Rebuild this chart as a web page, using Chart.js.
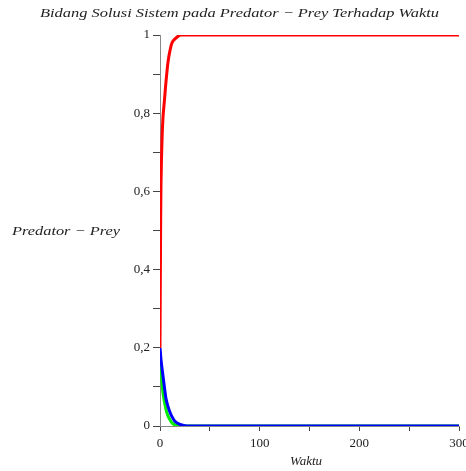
<!DOCTYPE html>
<html>
<head>
<meta charset="utf-8">
<script src="https://cdn.jsdelivr.net/npm/chart.js@4"></script>
<style>
  html, body { margin: 0; padding: 0; background: #fff; }
  #wrap { width: 466px; height: 471px; }
</style>
</head>
<body>
<div id="wrap"><canvas id="chart" width="466" height="471"></canvas></div>
<script>
// Waktu (time) samples and the three solution curves
const waktu = [0, 0.5, 1, 2, 3, 4, 5, 6, 8, 10, 12, 15, 20, 25, 30, 50, 100, 150, 200, 250, 300];
const merah = [0.2, 0.45, 0.62, 0.73, 0.79, 0.82, 0.85, 0.88, 0.93, 0.96, 0.98, 0.99, 1, 1, 1, 1, 1, 1, 1, 1, 1];
const biru = [0.2, 0.185, 0.17, 0.148, 0.128, 0.108, 0.088, 0.07, 0.05, 0.035, 0.024, 0.012, 0.004, 0.001, 0, 0, 0, 0, 0, 0, 0];
const hijau = [0.18, 0.165, 0.15, 0.11, 0.085, 0.068, 0.055, 0.042, 0.026, 0.016, 0.008, 0.003, 0.001, 0, 0, 0, 0, 0, 0, 0, 0];

const titleText = "Bidang Solusi Sistem pada Predator \u2212 Prey Terhadap Waktu";
const yLabel = "Predator \u2212 Prey";
const xLabel = "Waktu";

const pts = (ys) => waktu.map((t, i) => ({ x: t, y: ys[i] }));

// write text stretched to a given width (the original uses a wide italic face)
function wideText(ctx, txt, x0, x1, y) {
  const w = ctx.measureText(txt).width;
  ctx.save();
  ctx.translate(x0, y);
  ctx.scale((x1 - x0) / w, 1);
  ctx.fillText(txt, 0, 0);
  ctx.restore();
}

// titles drawn by hand so the y label stays horizontal like the original
const labelsPlugin = {
  id: "labels",
  afterDraw(chart) {
    const { ctx } = chart;
    ctx.save();
    ctx.fillStyle = "#222";
    ctx.font = "italic 13px 'Liberation Serif', serif";
    ctx.textAlign = "left";
    ctx.textBaseline = "middle";
    wideText(ctx, titleText, 40, 439, 14);
    wideText(ctx, yLabel, 12, 120, 232);
    wideText(ctx, xLabel, 290, 322, 462);
    ctx.restore();
  },
};

const line = (data, color, order, width) => ({
  data: pts(data),
  borderColor: color,
  borderWidth: width,
  pointRadius: 0,
  tension: 0.3,
  fill: false,
  order,
});

const tickFont = { family: "'Liberation Serif', serif", size: 13 };

new Chart(document.getElementById("chart"), {
  type: "line",
  data: {
    datasets: [
      line(merah, "#ff0000", 0, 3),
      line(biru, "#0000ff", 1, 3),
      line(hijau, "#00ee00", 2, 3),
    ],
  },
  options: {
    responsive: false,
    animation: false,
    layout: { padding: { top: 35, right: 7, left: 0, bottom: 0 } },
    plugins: { legend: { display: false }, tooltip: { enabled: false } },
    scales: {
      x: {
        type: "linear",
        min: 0,
        max: 300,
        afterFit: (s) => {
          s.height = 45;
          s.paddingLeft = 0;
          s.paddingRight = 0;
        },
        grid: { display: true, drawOnChartArea: false, drawTicks: true, tickLength: 5, tickColor: "#444" },
        border: { color: "#888", width: 1 },
        ticks: {
          stepSize: 50,
          autoSkip: false,
          maxRotation: 0,
          padding: 5,
          color: "#222",
          font: tickFont,
          callback: (v) => (v % 100 === 0 ? String(v) : ""),
        },
      },
      y: {
        min: 0,
        max: 1,
        afterFit: (s) => {
          s.width = 160;
          s.paddingTop = 0;
          s.paddingBottom = 0;
        },
        grid: { display: true, drawOnChartArea: false, drawTicks: true, tickLength: 7, tickColor: "#444" },
        border: { color: "#888", width: 1 },
        ticks: {
          stepSize: 0.1,
          autoSkip: false,
          padding: 3,
          color: "#222",
          font: tickFont,
          callback: (v) => {
            const r = Math.round(v * 10);
            if (r % 2 !== 0) return "";
            return r === 10 ? "1" : r === 0 ? "0" : (r / 10).toFixed(1).replace(".", ",");
          },
        },
      },
    },
  },
  plugins: [labelsPlugin],
});
</script>
</body>
</html>
